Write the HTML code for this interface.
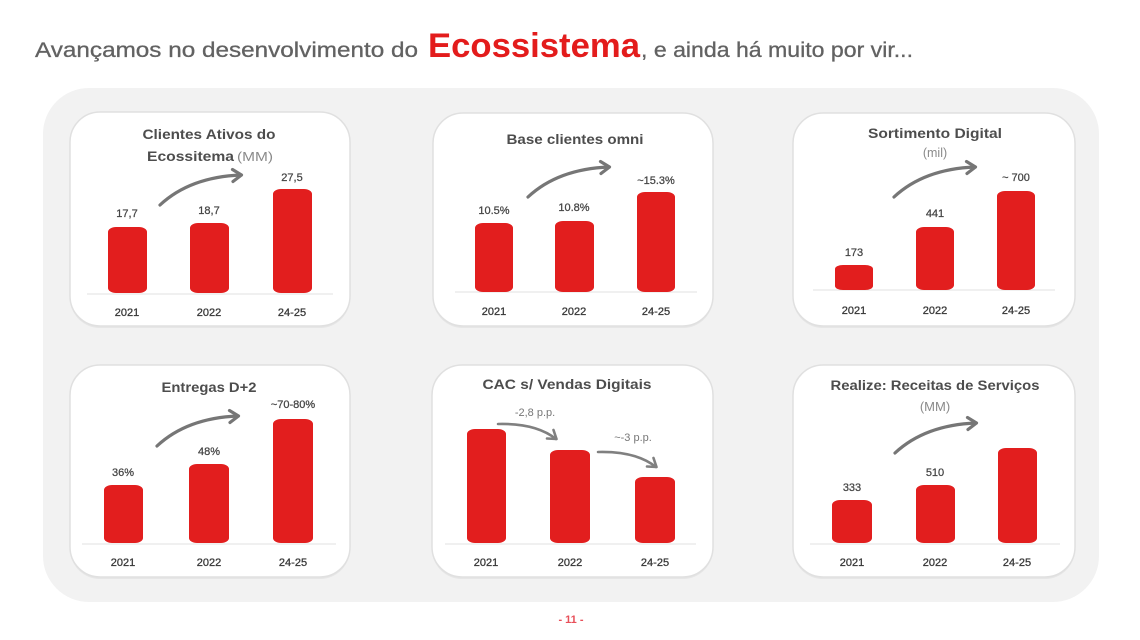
<!DOCTYPE html>
<html>
<head>
<meta charset="utf-8">
<style>
html,body{margin:0;padding:0;background:#fff;}
svg{display:block;}
text{font-family:"Liberation Sans",sans-serif;}
</style>
</head>
<body>
<svg width="1140" height="640" viewBox="0 0 1140 640" xmlns="http://www.w3.org/2000/svg">
<defs>
  <g id="up">
    <path d="M0,0 Q30,-28 81,-30" fill="none" stroke="#767676" stroke-width="3.2" stroke-linecap="round"/>
    <path d="M72.5,-35.5 L81.5,-30 L73,-23.5" fill="none" stroke="#767676" stroke-width="3.2" stroke-linecap="round" stroke-linejoin="round"/>
  </g>
  <g id="down">
    <path d="M0,0 Q38,-1 58,15" fill="none" stroke="#808080" stroke-width="2.6" stroke-linecap="round"/>
    <path d="M55.5,6 L58.5,15 L49,14.5" fill="none" stroke="#808080" stroke-width="2.6" stroke-linecap="round" stroke-linejoin="round"/>
  </g>
</defs>

<!-- main title -->
<text x="35" y="57" font-size="21" fill="#626262" stroke="#626262" stroke-width="0.3" textLength="383" lengthAdjust="spacingAndGlyphs">Avançamos no desenvolvimento do</text>
<text x="428" y="57" font-size="34" font-weight="bold" fill="#e31c1c" textLength="212" lengthAdjust="spacingAndGlyphs">Ecossistema</text>
<text x="641" y="57" font-size="21" fill="#626262" stroke="#626262" stroke-width="0.3" textLength="272" lengthAdjust="spacingAndGlyphs">, e ainda há muito por vir...</text>

<!-- gray panel -->
<rect x="43" y="88" width="1056" height="514" rx="46" ry="46" fill="#f2f2f2"/>

<!-- cards -->
<g fill="#ffffff" stroke="#e0e0e0" stroke-width="1.5">
  <rect x="70" y="113" width="280" height="215" rx="30" fill="#e6e6e6" stroke="none"/>
  <rect x="70" y="112" width="280" height="214" rx="30"/>
  <rect x="433" y="114" width="280" height="214" rx="30" fill="#e6e6e6" stroke="none"/>
  <rect x="433" y="113" width="280" height="213" rx="30"/>
  <rect x="793" y="114" width="282" height="214" rx="30" fill="#e6e6e6" stroke="none"/>
  <rect x="793" y="113" width="282" height="213" rx="30"/>
  <rect x="70" y="366" width="280" height="213" rx="30" fill="#e6e6e6" stroke="none"/>
  <rect x="70" y="365" width="280" height="212" rx="30"/>
  <rect x="432" y="366" width="281" height="213" rx="30" fill="#e6e6e6" stroke="none"/>
  <rect x="432" y="365" width="281" height="212" rx="30"/>
  <rect x="793" y="366" width="282" height="213" rx="30" fill="#e6e6e6" stroke="none"/>
  <rect x="793" y="365" width="282" height="212" rx="30"/>
</g>

<!-- baselines -->
<g stroke="#ebebeb" stroke-width="1.5">
  <line x1="87" y1="294" x2="333" y2="294"/>
  <line x1="455" y1="292" x2="697" y2="292"/>
  <line x1="813" y1="290" x2="1055" y2="290"/>
  <line x1="82" y1="544" x2="336" y2="544"/>
  <line x1="445" y1="544" x2="696" y2="544"/>
  <line x1="810" y1="544" x2="1060" y2="544"/>
</g>

<!-- bars -->
<g fill="#e21e1e">
  <rect x="108" y="227" width="39" height="66" rx="8" ry="5"/>
  <rect x="190" y="223" width="39" height="70" rx="8" ry="5"/>
  <rect x="273" y="189" width="39" height="104" rx="8" ry="5"/>

  <rect x="475" y="223" width="38" height="69" rx="8" ry="5"/>
  <rect x="555" y="221" width="39" height="71" rx="8" ry="5"/>
  <rect x="637" y="192" width="38" height="100" rx="8" ry="5"/>

  <rect x="835" y="265" width="38" height="25" rx="8" ry="4"/>
  <rect x="916" y="227" width="38" height="63" rx="8" ry="5"/>
  <rect x="997" y="191" width="38" height="99" rx="8" ry="5"/>

  <rect x="104" y="485" width="39" height="58" rx="8" ry="5"/>
  <rect x="189" y="464" width="40" height="79" rx="8" ry="5"/>
  <rect x="273" y="419" width="40" height="124" rx="8" ry="5"/>

  <rect x="467" y="429" width="39" height="114" rx="8" ry="5"/>
  <rect x="550" y="450" width="40" height="93" rx="8" ry="5"/>
  <rect x="635" y="477" width="40" height="66" rx="8" ry="5"/>

  <rect x="832" y="500" width="40" height="43" rx="8" ry="5"/>
  <rect x="916" y="485" width="39" height="58" rx="8" ry="5"/>
  <rect x="998" y="448" width="39" height="95" rx="8" ry="5"/>
</g>

<!-- arrows -->
<use href="#up" x="160" y="205"/>
<use href="#up" x="528" y="197"/>
<use href="#up" x="894" y="197"/>
<use href="#up" x="157" y="446"/>
<use href="#up" x="895" y="453"/>
<use href="#down" x="498" y="424"/>
<use href="#down" x="598" y="452"/>

<!-- card titles -->
<g font-weight="bold" fill="#4d4d4d" font-size="13.5" text-anchor="middle">
  <text x="209" y="139" textLength="133" lengthAdjust="spacingAndGlyphs">Clientes Ativos do</text>
  <text x="575" y="144" textLength="137" lengthAdjust="spacingAndGlyphs">Base clientes omni</text>
  <text x="935" y="138" textLength="134" lengthAdjust="spacingAndGlyphs">Sortimento Digital</text>
  <text x="209" y="392" textLength="95" lengthAdjust="spacingAndGlyphs">Entregas D+2</text>
  <text x="567" y="389" textLength="169" lengthAdjust="spacingAndGlyphs">CAC s/ Vendas Digitais</text>
  <text x="935" y="390" textLength="209" lengthAdjust="spacingAndGlyphs">Realize: Receitas de Serviços</text>
</g>
<text x="147" y="161" font-size="13.5" font-weight="bold" fill="#4d4d4d" textLength="87" lengthAdjust="spacingAndGlyphs">Ecossitema</text>
<text x="237" y="161" font-size="13" fill="#8a8a8a" textLength="36" lengthAdjust="spacingAndGlyphs">(MM)</text>
<text x="935" y="157" font-size="12.5" fill="#8a8a8a" text-anchor="middle">(mil)</text>
<text x="935" y="411" font-size="13" fill="#8a8a8a" text-anchor="middle">(MM)</text>

<!-- value labels -->
<g font-size="11" fill="#444" stroke="#444" stroke-width="0.25" text-anchor="middle">
  <text x="127" y="217">17,7</text>
  <text x="209" y="214">18,7</text>
  <text x="292" y="181">27,5</text>

  <text x="494" y="214">10.5%</text>
  <text x="574" y="211">10.8%</text>
  <text x="656" y="184">~15.3%</text>

  <text x="854" y="256">173</text>
  <text x="935" y="217">441</text>
  <text x="1016" y="181">~ 700</text>

  <text x="123" y="476">36%</text>
  <text x="209" y="455">48%</text>
  <text x="293" y="408">~70-80%</text>

  <text x="852" y="491">333</text>
  <text x="935" y="476">510</text>
</g>
<g font-size="11" fill="#777" text-anchor="middle">
  <text x="535" y="416">-2,8 p.p.</text>
  <text x="633" y="441">~-3 p.p.</text>
</g>

<!-- x labels -->
<g font-size="11" fill="#3a3a3a" stroke="#3a3a3a" stroke-width="0.3" text-anchor="middle">
  <text x="127" y="316">2021</text>
  <text x="209" y="316">2022</text>
  <text x="292" y="316">24-25</text>

  <text x="494" y="315">2021</text>
  <text x="574" y="315">2022</text>
  <text x="656" y="315">24-25</text>

  <text x="854" y="314">2021</text>
  <text x="935" y="314">2022</text>
  <text x="1016" y="314">24-25</text>

  <text x="123" y="566">2021</text>
  <text x="209" y="566">2022</text>
  <text x="293" y="566">24-25</text>

  <text x="486" y="566">2021</text>
  <text x="570" y="566">2022</text>
  <text x="655" y="566">24-25</text>

  <text x="852" y="566">2021</text>
  <text x="935" y="566">2022</text>
  <text x="1017" y="566">24-25</text>
</g>

<!-- page number -->
<text x="571" y="623" font-size="11" fill="#e8505a" text-anchor="middle" font-weight="bold">- 11 -</text>
</svg>
</body>
</html>
